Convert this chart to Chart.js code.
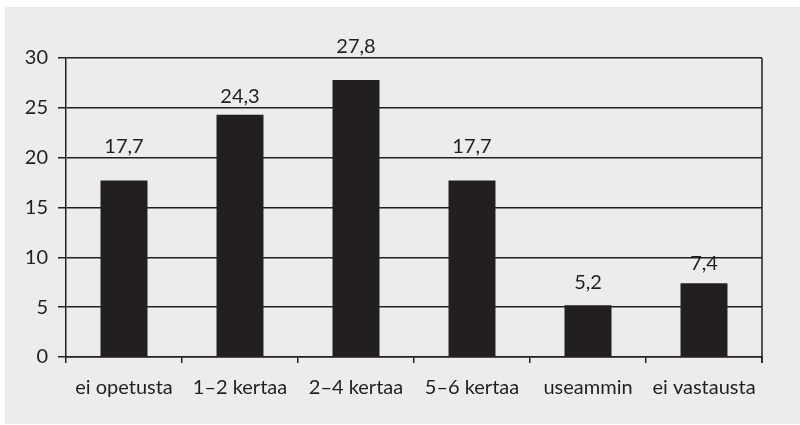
<!DOCTYPE html>
<html>
<head>
<meta charset="utf-8">
<script src="https://cdn.jsdelivr.net/npm/chart.js@4"></script>
<style>
  html, body { margin: 0; padding: 0; background: #ffffff; }
  #wrap { position: absolute; left: 0; top: 0; width: 800px; height: 425px; }
</style>
</head>
<body>
<div id="wrap"><canvas id="chart" width="800" height="425"></canvas></div>
<script>
  // categories and values
  const categories = ['ei opetusta', '1–2 kertaa', '2–4 kertaa', '5–6 kertaa', 'useammin', 'ei vastausta'];
  const shares = [17.7, 24.3, 27.8, 17.7, 5.2, 7.4];
  const valueLabels = ['17,7', '24,3', '27,8', '17,7', '5,2', '7,4'];

  // how far above each bar top its value label sits (px)
  const labelLift = [34, 18, 33, 34, 23, 20];

  const ink = '#231f20';
  const FONT = 'Lato, "Open Sans", sans-serif';

  // grey panel behind everything, plus the right frame line of the plot
  const panelPlugin = {
    id: 'panel',
    beforeDraw(chart) {
      const c = chart.ctx;
      c.save();
      c.fillStyle = '#ffffff';
      c.fillRect(0, 0, chart.width, chart.height);
      c.fillStyle = '#ececec';
      c.fillRect(5, 7, chart.width - 5, chart.height - 8);
      c.restore();
    },
    afterDatasetsDraw(chart) {
      const a = chart.chartArea;
      const c = chart.ctx;
      c.save();
      c.strokeStyle = ink;
      c.lineWidth = 1.5;
      c.beginPath();
      c.moveTo(a.right, a.top);
      c.lineTo(a.right, a.bottom + 6);
      c.stroke();
      c.restore();
    }
  };

  // value labels above the bars
  const valuePlugin = {
    id: 'values',
    afterDatasetsDraw(chart) {
      const meta = chart.getDatasetMeta(0);
      const c = chart.ctx;
      c.save();
      c.fillStyle = ink;
      c.font = '20px ' + FONT;
      c.textAlign = 'center';
      c.textBaseline = 'middle';
      meta.data.forEach((bar, i) => {
        c.fillText(valueLabels[i], bar.x, bar.y - labelLift[i]);
      });
      c.restore();
    }
  };

  new Chart(document.getElementById('chart'), {
    type: 'bar',
    data: {
      labels: categories,
      datasets: [{
        data: shares,
        backgroundColor: ink,
        categoryPercentage: 1,
        barPercentage: 0.405
      }]
    },
    options: {
      responsive: false,
      animation: false,
      layout: { padding: { top: 58, right: 38, left: 0, bottom: 0 } },
      plugins: { legend: { display: false }, tooltip: { enabled: false } },
      scales: {
        x: {
          grid: { drawOnChartArea: false, drawTicks: true, tickLength: 6, color: ink, lineWidth: 1.5 },
          border: { display: true, color: ink, width: 1.5 },
          ticks: { color: ink, font: { family: FONT, size: 20 }, padding: 13, maxRotation: 0, autoSkip: false },
          afterFit(scale) { scale.height = 68; }
        },
        y: {
          min: 0,
          max: 30,
          ticks: { stepSize: 5, color: ink, font: { family: FONT, size: 20 }, padding: 10 },
          grid: { color: ink, lineWidth: 1.5, tickLength: 8 },
          border: { display: true, color: ink, width: 1.5 },
          afterFit(scale) { scale.width = 66; }
        }
      }
    },
    plugins: [panelPlugin, valuePlugin]
  });
</script>
</body>
</html>
